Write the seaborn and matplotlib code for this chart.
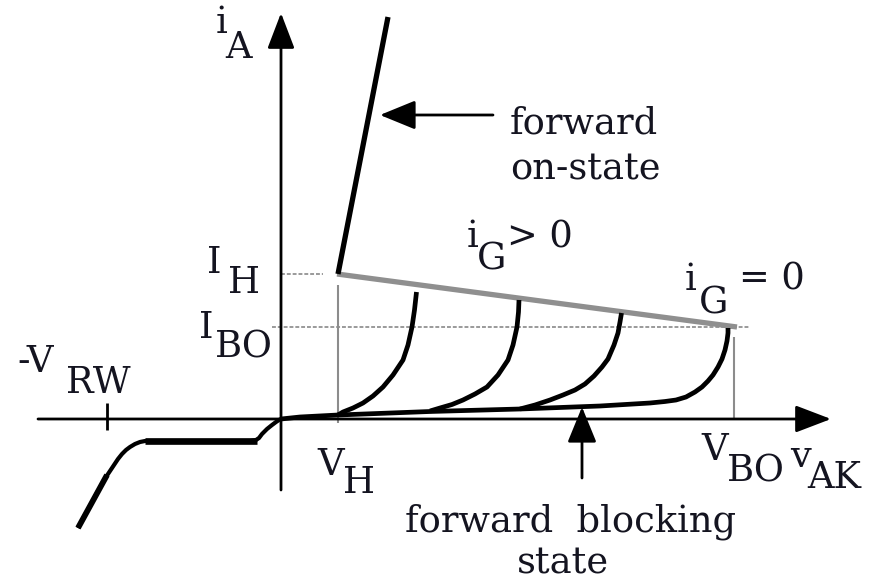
import matplotlib
matplotlib.use("Agg")
import matplotlib.pyplot as plt
import seaborn as sns

# ---- data (diagram units: v_AK to the right, i_A upward, origin at axis crossing) ----
V_H, V_BO, V_RW = 57, 453, -174
I_H, I_BO = 145, 92

on_v = [57, 107]
on_i = [145, 402]

hold_v = [56, 456]
hold_i = [145, 92]

ig0_v = [0, 19, 57, 149, 239, 319, 369, 384, 395, 405, 414, 421, 427, 432, 437, 441, 444, 446, 447, 447]
ig0_i = [0, 2, 4, 7.5, 10, 13, 16, 17.5, 19, 22, 27, 32, 38, 44, 52, 60, 69, 78, 86, 91]

ig1_v = [57, 62, 72, 82, 92, 102, 112, 122, 127, 131, 133.5, 135.5]
ig1_i = [4, 7, 11, 16, 23, 32, 44, 59, 74, 92, 109, 127]

ig2_v = [149, 159, 171, 182, 194, 206, 217, 227, 232, 236, 237.5, 238]
ig2_i = [8, 11, 14.5, 19, 25, 32, 44, 59, 74, 92, 107, 119]

ig3_v = [239, 254, 269, 282, 294, 304, 313, 321, 327, 333, 337, 339, 340.5]
ig3_i = [10, 14, 19, 24, 29, 35, 43, 52, 60, 74, 86, 97, 106]

rev_v = [0, -2, -5, -9, -14, -19, -22, -25, -31, -136, -141, -146, -151, -155,
         -159, -163, -167, -171, -175, -178, -203]
rev_i = [0, -1, -3, -6, -10, -15, -19, -21, -22, -22, -23, -25, -28, -31,
         -35, -40, -46, -52, -58, -63, -109]

rev_flat_v = [-136, -24]
rev_flat_i = [-22, -22]
rev_tail_v = [-174, -203]
rev_tail_i = [-56, -109]

# ---- figure ----
sns.set_theme(style="white")
plt.rcParams["font.family"] = ["DejaVu Serif", "DejaVu Sans"]
fig = plt.figure(figsize=(8.86, 5.8), dpi=100)
ax = fig.add_axes([0, 0, 1, 1])
ax.set_xlim(-281, 605)
ax.set_ylim(-161, 419)
ax.axis("off")

K = "black"
G = "#8c8c8c"

def line(v, i, color=K, lw=3.6, **kw):
    sns.lineplot(x=v, y=i, sort=False, estimator=None, color=color, linewidth=lw,
                 ax=ax, solid_capstyle="butt", solid_joinstyle="round", **kw)

# reference lines (gray)
line([0, 42], [I_H, I_H], color="#9a9a9a", lw=1.4, linestyle=(0, (2, 1)))
line([-9, 469], [I_BO, I_BO], color="#9a9a9a", lw=1.4, linestyle=(0, (2, 1)))
line([V_H, V_H], [-4, 134], color=G, lw=1.5)
line([V_BO, V_BO], [-1, 82], color=G, lw=1.5)
line(hold_v, hold_i, color="#8f8f8f", lw=3.8)

# axes with arrowheads
arrow = dict(arrowstyle="-|>,head_length=1.1,head_width=0.42", color=K, lw=2.0,
             mutation_scale=20, shrinkA=0, shrinkB=0)
ax.annotate("", xy=(550, 0), xytext=(-243, 0), arrowprops=arrow)
ax.annotate("", xy=(0, 406), xytext=(0, -71), arrowprops=arrow)
line([V_RW, V_RW], [-11, 16], lw=2.0)

# characteristic curves
line(rev_v, rev_i, lw=3.0)
line(rev_flat_v, rev_flat_i, lw=4.8)
line(rev_tail_v, rev_tail_i, lw=4.2)
line(ig0_v, ig0_i, lw=3.4)
line(ig1_v, ig1_i, lw=3.4)
line(ig2_v, ig2_i, lw=3.4)
line(ig3_v, ig3_i, lw=3.4)
line(on_v, on_i, lw=3.8)

# pointer arrows
parrow = dict(arrowstyle="-|>,head_length=1.1,head_width=0.45", color=K, lw=2.0,
              mutation_scale=20, shrinkA=0, shrinkB=0)
ax.annotate("", xy=(99, 304), xytext=(212, 304), arrowprops=parrow)
ax.annotate("", xy=(301, 12), xytext=(301, -59), arrowprops=parrow)

# ---- text ----
FS = 26.5
TC = "#141420"

def txt(x, y, s, ha="left", fs=FS):
    ax.text(x - 281, 419 - y, s, fontsize=fs, color=TC, ha=ha, va="baseline")

txt(216, 33, "i"); txt(225, 58, "A")
txt(207, 273, "I"); txt(228, 293, "H")
txt(199, 338, "I"); txt(215, 357, "BO")
txt(17, 372, "-V"); txt(66, 393, "RW")
txt(317, 475, "V"); txt(343, 493, "H")
txt(701, 460, "V"); txt(727, 482, "BO")
txt(790, 467, "v"); txt(807, 488, "AK")
txt(510, 133, "forward")
txt(510, 180, "on-state")
txt(467, 247, "i"); txt(477, 270, "G"); txt(507, 247, "> 0")
txt(685, 290, "i"); txt(699, 313, "G"); txt(739, 290, "= 0")
txt(405, 531, "forward  blocking")
txt(563, 573, "state", ha="center")

fig.savefig("out.png", dpi=100, facecolor="white")
